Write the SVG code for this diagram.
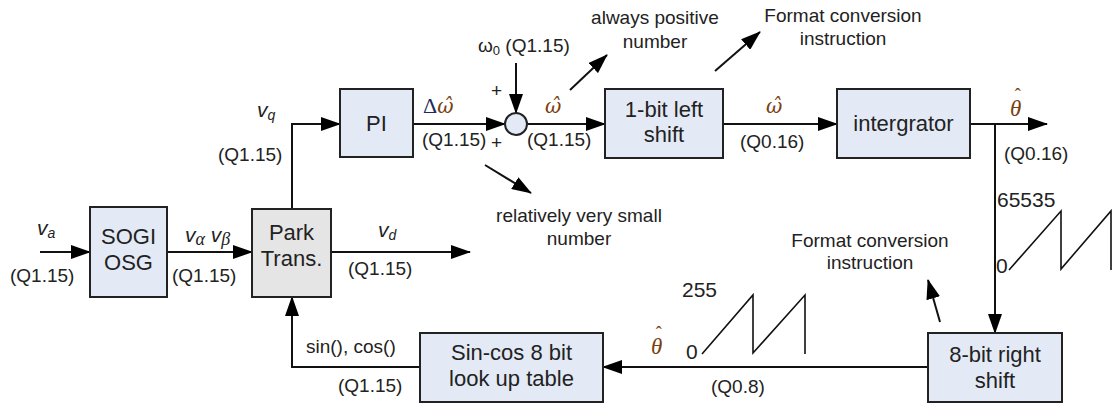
<svg xmlns="http://www.w3.org/2000/svg" width="1113" height="405" viewBox="0 0 1113 405">
  <defs>
    <marker id="arrow" markerUnits="userSpaceOnUse" markerWidth="20" markerHeight="14" viewBox="0 0 20 14" refX="19" refY="7" orient="auto">
      <path d="M0,0 L20,7 L0,14 z" fill="#000"/>
    </marker>
    <style>
      .blk { fill: #e3eaf6; stroke: #222; stroke-width: 2; }
      .gray { fill: #e5e5e5; stroke: #222; stroke-width: 2; }
      .wire { fill: none; stroke: #111; stroke-width: 2; }
      .saw { fill: none; stroke: #111; stroke-width: 1.6; }
      text { font-family: "Liberation Sans", Arial, sans-serif; fill: #222; }
      .box { font-size: 22px; text-anchor: middle; }
      .lbl { font-size: 19px; }
      .note { font-size: 19px; text-anchor: middle; }
      .num { font-size: 21px; }
      .var { font-style: italic; font-size: 21px; }
      .sub { font-style: italic; font-size: 14px; }
      .math { font-family: "DejaVu Serif", "Liberation Serif", serif; font-style: italic; font-size: 20px; fill: #7a4010; }
      .theta { font-family: "Liberation Serif", "Times New Roman", serif; font-style: italic; font-size: 23px; fill: #7a4010; }
      .hat { font-style: normal; font-size: 18px; }
      .delta { font-family: "Liberation Serif", serif; font-style: normal; font-size: 22px; fill: #1c2b5e; }
      .greek { font-family: "Liberation Serif", "Times New Roman", serif; font-style: italic; font-size: 18px; }
    </style>
  </defs>

  <!-- signal connectors -->
  <g id="connectors">
    <line class="wire" x1="40" y1="252" x2="90" y2="252" marker-end="url(#arrow)"/>
    <line class="wire" x1="167" y1="252" x2="252" y2="252" marker-end="url(#arrow)"/>
    <line class="wire" x1="331" y1="252" x2="470" y2="252" marker-end="url(#arrow)"/>
    <path class="wire" d="M292,209 V124 H340" marker-end="url(#arrow)"/>
    <line class="wire" x1="413" y1="124" x2="505" y2="124" marker-end="url(#arrow)"/>
    <line class="wire" x1="516" y1="63" x2="516" y2="113" marker-end="url(#arrow)"/>
    <line class="wire" x1="527" y1="124" x2="605" y2="124" marker-end="url(#arrow)"/>
    <line class="wire" x1="723" y1="124" x2="837" y2="124" marker-end="url(#arrow)"/>
    <line class="wire" x1="970" y1="124" x2="1047" y2="124" marker-end="url(#arrow)"/>
    <line class="wire" x1="995" y1="124" x2="995" y2="333" marker-end="url(#arrow)"/>
    <line class="wire" x1="928" y1="367" x2="603" y2="367" marker-end="url(#arrow)"/>
    <path class="wire" d="M420,367 H292 V297" marker-end="url(#arrow)"/>
    <!-- annotation pointers -->
    <line class="wire" x1="570" y1="90" x2="607" y2="55" marker-end="url(#arrow)"/>
    <line class="wire" x1="485" y1="165" x2="531" y2="193" marker-end="url(#arrow)"/>
    <line class="wire" x1="715" y1="71" x2="760" y2="32" marker-end="url(#arrow)"/>
    <line class="wire" x1="940" y1="322" x2="928" y2="280" marker-end="url(#arrow)"/>
  </g>

  <!-- blocks -->
  <g id="sogi">
    <rect class="blk" x="90" y="207" width="77" height="90"/>
    <text class="box" x="128.5" y="244">SOGI</text>
    <text class="box" x="128.5" y="270">OSG</text>
  </g>
  <g id="park">
    <rect class="gray" x="252" y="209" width="79" height="88"/>
    <text class="box" x="291.5" y="240">Park</text>
    <text class="box" x="291.5" y="266">Trans.</text>
  </g>
  <g id="pi">
    <rect class="blk" x="340" y="89" width="73" height="68"/>
    <text class="box" x="376.5" y="131">PI</text>
  </g>
  <g id="sum">
    <circle cx="516" cy="124" r="11" fill="#e3eaf6" stroke="#222" stroke-width="2"/>
  </g>
  <g id="shift-left">
    <rect class="blk" x="605" y="89" width="118" height="69"/>
    <text class="box" x="664" y="117">1-bit left</text>
    <text class="box" x="664" y="142">shift</text>
  </g>
  <g id="integrator">
    <rect class="blk" x="837" y="89" width="133" height="69"/>
    <text class="box" x="903.5" y="131">intergrator</text>
  </g>
  <g id="shift-right">
    <rect class="blk" x="928" y="333" width="134" height="69"/>
    <text class="box" x="995" y="362">8-bit right</text>
    <text class="box" x="995" y="388">shift</text>
  </g>
  <g id="lut">
    <rect class="blk" x="420" y="333" width="183" height="69"/>
    <text class="box" x="511.5" y="360">Sin-cos 8 bit</text>
    <text class="box" x="511.5" y="386">look up table</text>
  </g>

  <!-- sawtooth sketches -->
  <g id="saw-16bit">
    <path class="saw" d="M1009,270 L1061,211 V269 L1111,211 V270"/>
    <text class="num" x="997" y="207">65535</text>
    <text class="num" x="996" y="273">0</text>
  </g>
  <g id="saw-8bit">
    <path class="saw" d="M702,354 L753,295 V353 L805,295 V354"/>
    <text class="num" x="682" y="297">255</text>
    <text class="num" x="686" y="359">0</text>
  </g>

  <!-- signal labels -->
  <g id="labels">
    <text class="var" x="37" y="235">v<tspan class="sub" dy="3">a</tspan></text>
    <text class="lbl" x="10" y="282">(Q1.15)</text>
    <text class="var" x="185" y="242">v<tspan class="greek" dy="3">α</tspan><tspan dy="-3"> v</tspan><tspan class="greek" dy="3">β</tspan></text>
    <text class="lbl" x="172" y="282">(Q1.15)</text>
    <text class="var" x="378" y="237">v<tspan class="sub" dy="3">d</tspan></text>
    <text class="lbl" x="348" y="275">(Q1.15)</text>
    <text class="var" x="257" y="117">v<tspan class="sub" dy="3">q</tspan></text>
    <text class="lbl" x="218" y="161">(Q1.15)</text>
    <text class="math" x="423" y="113"><tspan class="delta">Δ</tspan>ω̂</text>
    <text class="lbl" x="422" y="146">(Q1.15)</text>
    <text class="lbl" x="491" y="97">+</text>
    <text class="lbl" x="491" y="149">+</text>
    <text class="lbl" x="478" y="52">ω<tspan font-size="13" dy="3">0</tspan><tspan dy="-3"> (Q1.15)</tspan></text>
    <text class="math" x="545" y="113">ω̂</text>
    <text class="lbl" x="527" y="146">(Q1.15)</text>
    <text class="math" x="766" y="113">ω̂</text>
    <text class="lbl" x="740" y="148">(Q0.16)</text>
    <text class="theta" x="1010" y="116">θ<tspan class="hat" dx="-6.5" dy="-15">ˆ</tspan></text>
    <text class="lbl" x="1004" y="160">(Q0.16)</text>
    <text class="theta" x="651" y="354">θ<tspan class="hat" dx="-6.5" dy="-15">ˆ</tspan></text>
    <text class="lbl" x="711" y="393">(Q0.8)</text>
    <text class="lbl" x="306" y="353">sin(), cos()</text>
    <text class="lbl" x="338" y="392">(Q1.15)</text>
  </g>

  <!-- annotations -->
  <g id="notes">
    <text class="note" x="655" y="24">always positive</text>
    <text class="note" x="655" y="48">number</text>
    <text class="note" x="843" y="22">Format conversion</text>
    <text class="note" x="843" y="45">instruction</text>
    <text class="note" x="579" y="222">relatively very small</text>
    <text class="note" x="579" y="245">number</text>
    <text class="note" x="870" y="247">Format conversion</text>
    <text class="note" x="870" y="269">instruction</text>
  </g>
</svg>
